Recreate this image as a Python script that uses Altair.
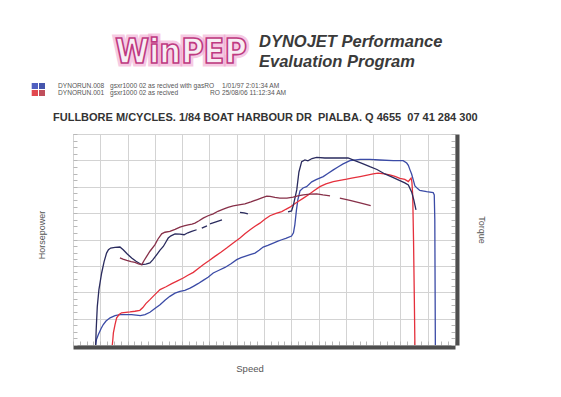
import altair as alt
import pandas as pd

# ---------------- data (speed grid units x10, power grid units x20) ----------------
# Run 008 horsepower (blue)
hp008_speed = [8.3, 8.6, 9.3, 10.3, 11.1, 12.1, 13.6, 15.4, 17.2, 19.4, 21.5, 24.7, 26.4, 28.2, 30.0,
               31.9, 33.7, 35.5, 37.4, 39.2, 41.0, 42.9, 44.1, 45.8, 47.7, 49.5, 51.4, 53.5, 55.7,
               57.9, 60.0, 61.6, 63.0, 64.9, 66.7, 68.2, 69.7, 71.4, 73.4, 75.1, 76.5, 78.0, 80.1,
               80.8, 81.3, 81.9, 82.4, 83.2, 84.3, 85.6, 87.5, 89.3, 91.7, 93.4, 95.4, 97.1, 99.0,
               101.5, 105.2, 108.8, 112.5, 117.4, 121.0, 122.3, 122.9, 123.5, 124.1, 124.8, 125.3,
               126.4, 127.1, 129.6, 132.0, 132.4, 132.6, 132.8]
hp008_power = [0.0, 4.2, 7.9, 12.5, 15.5, 18.2, 20.6, 22.3, 23.1, 23.1, 23.1, 22.3, 23.1, 24.8, 27.6,
               30.6, 34.0, 36.9, 39.3, 40.7, 41.5, 43.1, 44.5, 46.5, 49.0, 51.4, 54.6, 56.7, 58.8,
               61.6, 64.7, 66.2, 67.2, 68.5, 69.7, 71.9, 74.3, 75.6, 77.3, 78.7, 79.8, 80.9, 82.6,
               85.1, 91.1, 102.5, 110.1, 116.9, 119.1, 120.1, 123.7, 125.6, 127.7, 130.1, 132.8,
               135.0, 137.3, 139.8, 140.8, 140.7, 140.3, 139.8, 139.8, 138.0, 136.2, 132.8, 129.7,
               124.4, 120.6, 118.4, 117.2, 116.3, 115.6, 113.8, 94.9, 0.0]

# Run 008 torque (navy), drawn in pieces
tq008_a_speed = [8.3, 8.5, 8.9, 9.5, 10.5, 11.4, 12.3, 13.0, 13.8, 15.4, 17.2, 18.4, 19.8, 21.5, 23.1,
                 25.2, 26.7, 28.2, 29.3, 30.7, 31.9, 33.1, 34.1, 34.9, 35.9, 37.4, 39.2, 40.7, 42.1,
                 43.5, 45.3]
tq008_a_power = [0.0, 11.7, 29.1, 42.0, 54.6, 63.2, 69.7, 72.2, 73.5, 74.0, 74.3, 72.2, 69.2, 66.0, 63.5,
                 60.9, 61.3, 62.2, 64.7, 68.5, 71.9, 74.7, 78.3, 81.1, 82.8, 84.3, 84.0, 83.6, 85.1,
                 86.1, 87.4]
tq008_b_speed = [47.2, 49.1]
tq008_b_power = [88.6, 90.4]
tq008_c_speed = [50.2, 52.4, 54.6]
tq008_c_power = [91.9, 93.4, 94.9]
tq008_d_speed = [61.2, 62.7, 64.1]
tq008_d_power = [100.5, 100.2, 99.5]
tq008_e_speed = [78.8, 80.1, 80.8, 82.0, 82.8, 83.8, 85.0, 86.1, 87.6, 89.3, 92.3, 96.0, 100.8, 103.3,
                 105.9, 108.8, 111.4, 114.3, 117.2, 119.8, 121.6, 122.9, 124.1, 124.9, 125.7]
tq008_e_power = [101.0, 101.7, 106.3, 117.6, 131.2, 139.0, 140.3, 139.6, 141.4, 142.2, 141.8, 141.8,
                 141.8, 139.8, 137.7, 135.2, 133.1, 129.7, 127.1, 124.7, 122.9, 121.4, 116.1, 110.1,
                 102.5]

# Run 001 horsepower (red)
hp001_speed = [14.4, 14.6, 14.8, 15.4, 16.0, 16.9, 17.8, 19.4, 20.9, 22.7, 24.5, 25.6, 26.7, 28.2, 30.0,
               31.9, 34.1, 36.2, 38.1, 40.4, 42.1, 44.1, 45.8, 47.7, 49.8, 52.0, 54.2, 56.3, 58.6,
               61.2, 63.0, 64.9, 66.7, 68.5, 70.3, 72.2, 74.4, 76.5, 78.0, 79.5, 81.0, 82.5, 84.3,
               86.2, 88.3, 90.5, 92.7, 95.4, 97.8, 100.3, 102.6, 105.2, 107.4, 110.0, 111.8, 114.0,
               116.1, 118.0, 119.8, 121.6, 122.9, 123.5, 123.9, 124.2, 124.5, 124.8, 125.1, 125.3]
hp001_power = [0.0, 4.2, 9.2, 15.5, 20.6, 23.1, 24.4, 24.8, 25.1, 25.6, 26.3, 28.4, 31.4, 34.4, 38.2,
               42.0, 44.2, 46.5, 48.4, 50.8, 52.9, 55.1, 57.9, 60.9, 63.9, 67.2, 70.3, 73.5, 77.2,
               81.1, 84.3, 87.4, 90.0, 92.4, 95.3, 98.0, 99.8, 101.2, 102.9, 104.5, 106.7, 108.8,
               111.2, 113.8, 116.9, 120.1, 122.2, 123.9, 124.8, 125.7, 126.7, 127.7, 128.6, 129.7,
               130.3, 129.7, 129.0, 127.8, 126.3, 125.6, 123.9, 125.6, 126.5, 123.7, 113.8, 79.8,
               34.4, 0.0]

# Run 001 torque (maroon), drawn in pieces
tq001_a_speed = [17.2, 18.3, 19.7, 21.3, 22.7, 24.0, 25.2, 26.0, 27.0, 28.2, 30.0, 31.1, 32.5, 33.7,
                 35.5, 37.4, 39.2, 40.7, 42.2, 43.6, 44.7, 46.2, 47.7, 49.5, 51.4, 53.1, 55.1, 56.8,
                 58.7, 60.8, 63.0, 65.2, 67.3, 69.2, 71.0, 72.2, 74.0, 75.8, 78.4, 80.7, 82.4, 84.4,
                 86.8, 89.3, 91.6, 94.2]
tq001_a_power = [66.0, 65.1, 64.1, 63.2, 62.6, 61.6, 60.9, 63.9, 67.2, 71.1, 76.0, 80.2, 84.3, 85.5,
                 86.1, 87.7, 89.4, 90.4, 91.1, 91.7, 92.4, 94.2, 96.2, 98.0, 99.5, 101.4, 103.0, 104.4,
                 105.5, 106.3, 107.0, 108.5, 110.1, 111.6, 112.9, 112.7, 111.9, 111.3, 111.3, 112.1,
                 113.1, 113.8, 114.4, 114.6, 113.8, 113.1]
tq001_b_speed = [97.8, 101.5, 105.2, 109.1]
tq001_b_power = [111.3, 109.7, 107.8, 105.7]

# axis tick values (grid divisions)
major_x = list(range(0, 141, 10))
major_y = list(range(0, 161, 20))
minor_x = [k * 2.5 for k in range(0, 57)]
minor_y = [k * 5 for k in range(0, 33)]

# header texts
legend_rows = [
    ("DYNORUN.008", "gsxr1000 02 as recived with gasRO", "", "1/01/97 2:01:34 AM"),
    ("DYNORUN.001", "gsxr1000 02 as recived", "RO", "25/08/06 11:12:34 AM"),
]
shop_line = "FULLBORE M/CYCLES. 1/84 BOAT HARBOUR DR\u00a0 PIALBA. Q 4655\u00a0 07 41 284 300"

C_BLUE = "#3b4ba6"
C_NAVY = "#2a2b5e"
C_RED = "#e5303c"
C_MAROON = "#873049"
FONT = "Liberation Sans, Arial, sans-serif"

X_SCALE = alt.Scale(domain=[0, 140], nice=False, zero=False)
Y_SCALE = alt.Scale(domain=[0, 160], nice=False, zero=False)


def frame(pieces):
    rows = []
    for seg, (xs, ys) in enumerate(pieces):
        for i, (a, b) in enumerate(zip(xs, ys)):
            rows.append({"speed": a, "power": b, "seg": seg, "i": i})
    return pd.DataFrame(rows)


def line_layer(pieces, color, x_axis, y_axis):
    return alt.Chart(frame(pieces)).mark_line(color=color, strokeWidth=1.3).encode(
        x=alt.X("speed:Q", scale=X_SCALE, axis=x_axis),
        y=alt.Y("power:Q", scale=Y_SCALE, axis=y_axis),
        detail="seg:N",
        order="i:Q",
    )


def ax(**kw):
    base = dict(labels=False, title=None, grid=False, ticks=False, domain=False)
    base.update(kw)
    return alt.Axis(**base)


grid_x = ax(values=major_x, grid=True, gridColor="#d3d3d3", orient="bottom")
grid_y = ax(values=major_y, grid=True, gridColor="#d3d3d3", orient="left")
minor_xa = ax(values=minor_x, ticks=True, tickSize=4, tickColor="#b8b8b8", orient="bottom", offset=-4)
minor_yl = ax(values=minor_y, ticks=True, tickSize=4, tickColor="#b8b8b8", orient="left", offset=-4)
minor_yr = ax(values=minor_y, ticks=True, tickSize=4, tickColor="#b8b8b8", orient="right", offset=-4)
shadow_x = ax(domain=True, domainColor="#4e4e4e", domainWidth=4, orient="bottom", offset=2)
shadow_y = ax(domain=True, domainColor="#4e4e4e", domainWidth=4, orient="right", offset=2)

lines = [
    line_layer([(hp008_speed, hp008_power)], C_BLUE, grid_x, grid_y),
    line_layer([(hp001_speed, hp001_power)], C_RED, minor_xa, minor_yl),
    line_layer([(tq008_a_speed, tq008_a_power), (tq008_b_speed, tq008_b_power),
                (tq008_c_speed, tq008_c_power), (tq008_d_speed, tq008_d_power),
                (tq008_e_speed, tq008_e_power)], C_NAVY, shadow_x, minor_yr),
    line_layer([(tq001_a_speed, tq001_a_power), (tq001_b_speed, tq001_b_power)], C_MAROON, None, shadow_y),
]

ONE = alt.Data(values=[{}])


def text(s, x, y, **kw):
    props = dict(text=s, font=FONT, align="left", baseline="alphabetic", fontSize=10, color="#444444")
    props.update(kw)
    return alt.Chart(ONE).mark_text(**props).encode(x=alt.value(x), y=alt.value(y))


def box(x, x2, y, y2, color):
    return alt.Chart(ONE).mark_rect(color=color).encode(
        x=alt.value(x), x2=alt.value(x2), y=alt.value(y), y2=alt.value(y2))


deco = [
    # WinPEP logo
    text("WinPEP", 108, -71, align="center", fontSize=34, fontWeight="bold",
         font="DejaVu Sans Condensed, DejaVu Sans", color="#ec9cc8", stroke="#ef9ccb",
         strokeWidth=7, strokeOpacity=0.55),
    text("WinPEP", 108, -71, align="center", fontSize=34, fontWeight="bold",
         font="DejaVu Sans Condensed, DejaVu Sans", color="#f7eef4", stroke="#bf3a82",
         strokeWidth=1.6),
    text("DYNOJET Performance", 186, -87, fontSize=16.5, fontWeight="bold", fontStyle="italic",
         color="#3a3a3a"),
    text("Evaluation Program", 186, -67.5, fontSize=16.5, fontWeight="bold", fontStyle="italic",
         color="#3a3a3a"),
    box(-41.3, -35, -51, -45, "#4f5fc0"),
    box(-34, -28, -51, -45, "#4656ad"),
    box(-41.3, -35, -44, -38, "#e2484f"),
    box(-34, -28, -44, -38, "#c04f5c"),
]
for r, (run, desc, ro, stamp) in enumerate(legend_rows):
    yy = -46 + 7 * r
    deco.append(text(run, -15, yy, fontSize=6.6, color="#555555"))
    deco.append(text(desc, 37, yy, fontSize=6.6, color="#555555"))
    if ro:
        deco.append(text(ro, 147, yy, fontSize=6.6, color="#555555", align="right"))
    deco.append(text(stamp, 149, yy, fontSize=6.6, color="#555555"))

deco += [
    text(shop_line, -20, -13.5, fontSize=11, fontWeight="bold", color="#333333"),
    text("Horsepower", -31, 101, fontSize=9, angle=270, align="center", baseline="middle",
         color="#555555"),
    text("Torque", 409, 96, fontSize=9, angle=90, align="center", baseline="middle",
         color="#555555"),
    text("Speed", 177, 238, fontSize=9.5, align="center", color="#555555"),
]

chart = alt.layer(*lines, *deco).resolve_axis(x="independent", y="independent").properties(
    width=382, height=211,
    autosize=alt.AutoSizeParams(type="none"),
    padding={"left": 65, "top": 126, "right": 96, "bottom": 42},
    background="white",
).configure_view(stroke="#9c9c9c", strokeWidth=1)

chart.save("out.html", embed_options={"renderer": "svg", "actions": False})
